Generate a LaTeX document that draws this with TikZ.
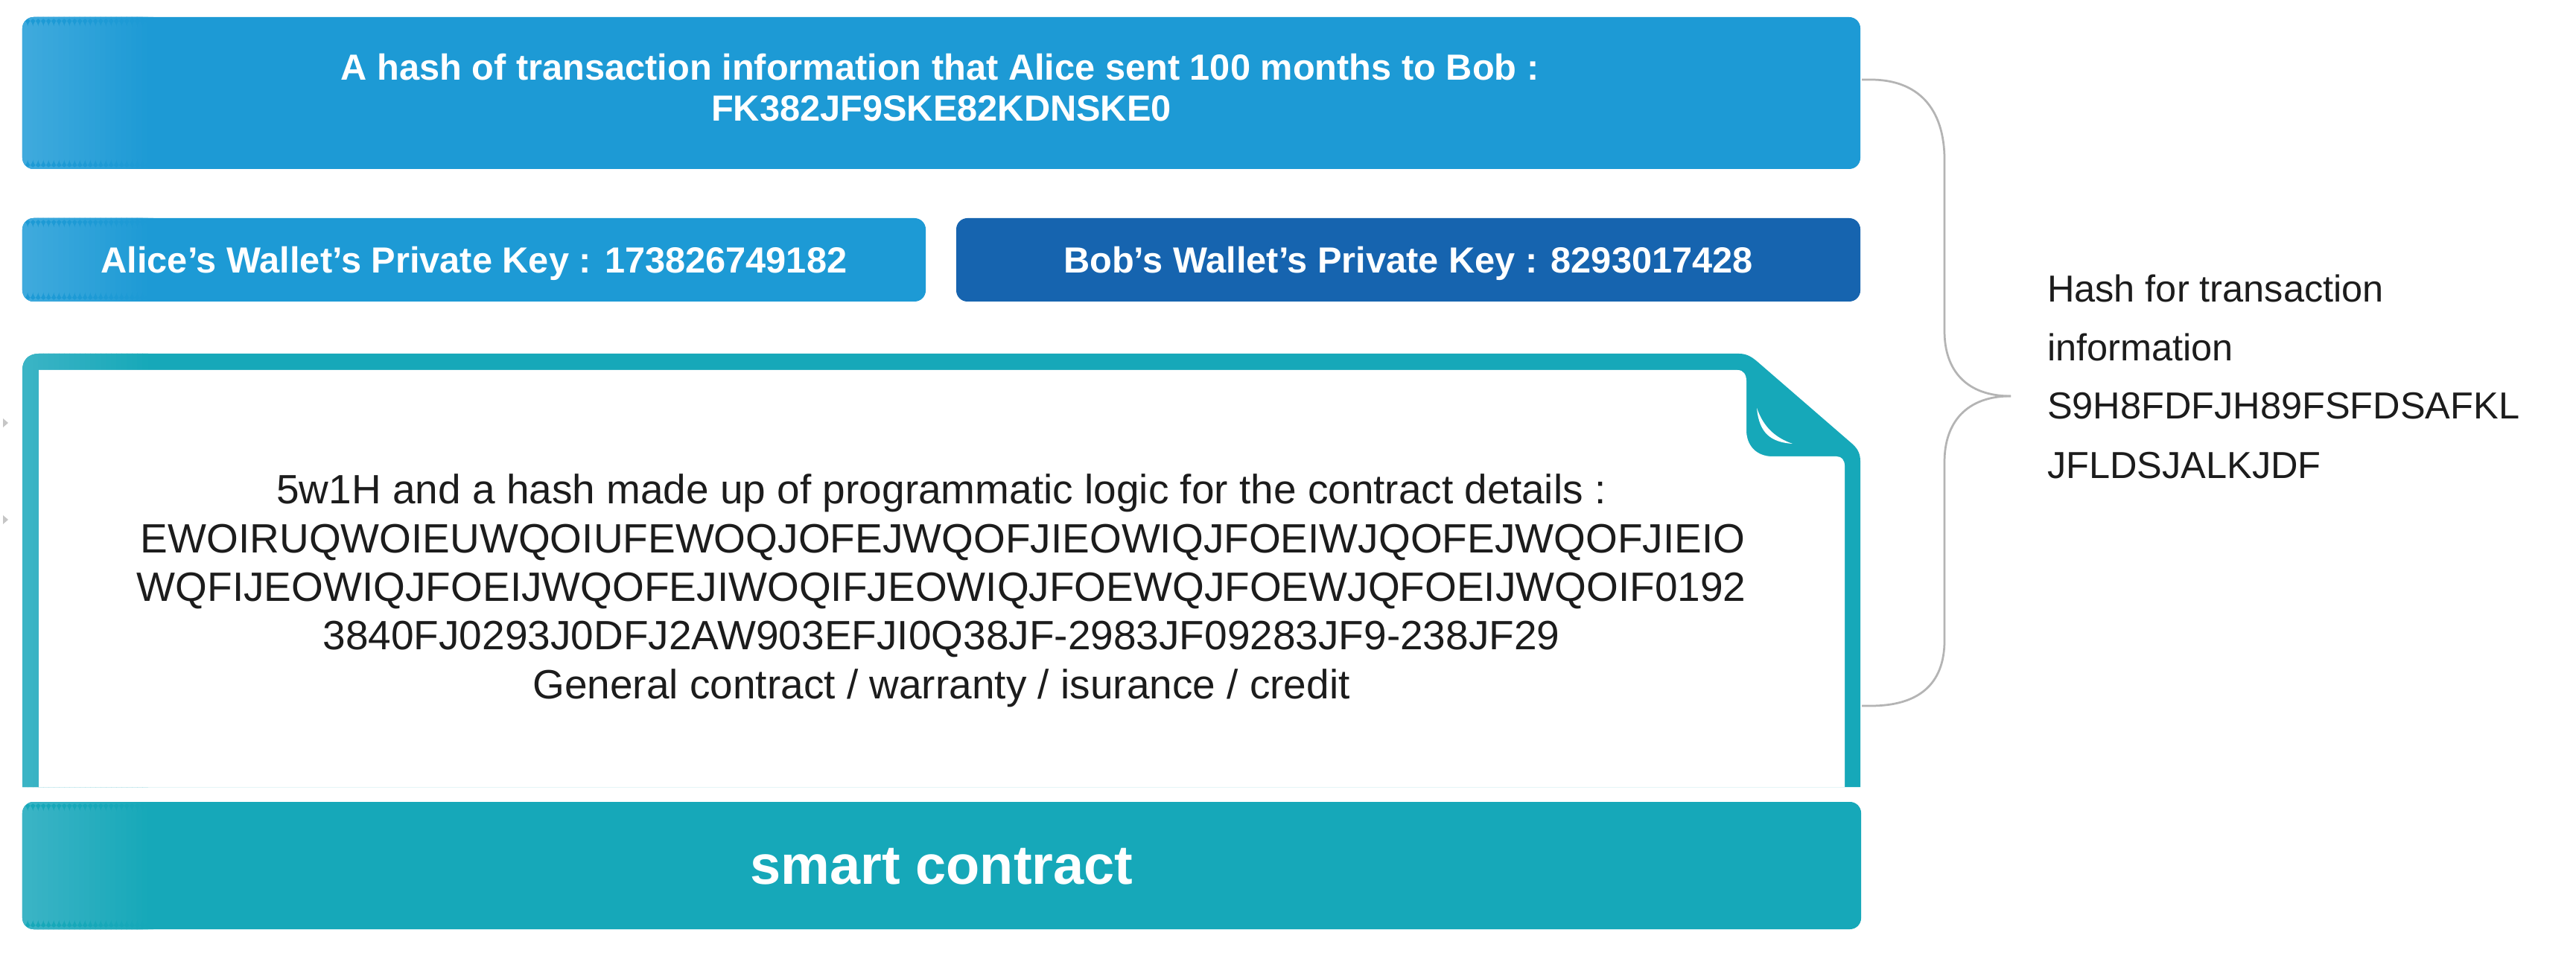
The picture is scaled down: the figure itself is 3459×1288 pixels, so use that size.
\documentclass[tikz,border=0pt]{standalone}
\usepackage{fontspec}
\setmainfont{Liberation Sans}
\definecolor{skyblue}{HTML}{1D9AD5}
\definecolor{skylight}{HTML}{3FAADD}
\definecolor{navyblue}{HTML}{1664AF}
\definecolor{tealc}{HTML}{16A8B9}
\definecolor{teallight}{HTML}{3BB4C5}
\definecolor{bracegray}{HTML}{B4B4B4}
\definecolor{txt}{HTML}{1C1C1C}
\newcommand\leftglow[2]{%
  \foreach \i in {0,...,23}{%
    \pgfmathsetmacro\pp{100-\i*100/24}%
    \fill[#1!\pp!#2] ([xshift=\i*1.4pt]path picture bounding box.north west)
      rectangle ([xshift=\i*1.4pt+1.5pt]path picture bounding box.south west);}}
\begin{document}
\begin{tikzpicture}[x=0.2pt,y=-0.2pt,
  boxbase/.style={rectangle, rounded corners=3pt, inner sep=0pt, draw=none},
  lightbox/.style={boxbase, fill=skyblue, path picture={\leftglow{skylight}{skyblue}}},
  darkbox/.style={boxbase, fill=navyblue},
  tealbox/.style={boxbase, fill=tealc, path picture={\leftglow{teallight}{tealc}}},
  boldtxt/.style={inner sep=0pt, anchor=base, text=white, font=\bfseries\fontsize{9.75}{11}\selectfont},
  bigtxt/.style={inner sep=0pt, anchor=base, text=white, font=\bfseries\fontsize{14.8}{17}\selectfont},
  bodytxt/.style={inner sep=0pt, anchor=base, text=txt, font=\fontsize{11}{13}\selectfont},
  sidetxt/.style={inner sep=0pt, anchor=base west, text=txt, font=\fontsize{10.1}{15.8}\selectfont},
  bracestyle/.style={draw=bracegray, line width=0.55pt}
]
\useasboundingbox (0,0) rectangle (3459,1288);
\fill[white] (0,0) rectangle (3459,1288);

% top hash bar
\node[lightbox, minimum width=493.6pt, minimum height=40.8pt] (hashbar) at (1264,125) {};
\node[boldtxt] (hashA) at (1262,108) {A hash of transaction information that Alice sent 100 months to Bob :};
\node[boldtxt] (hashB) at (1264,163) {FK382JF9SKE82KDNSKE0};

% key boxes
\node[lightbox, minimum width=242.6pt, minimum height=22.4pt] (alicebox) at (636.5,349) {};
\node[boldtxt] (alicetxt) at (636.5,367) {Alice’s Wallet’s Private Key : 173826749182};
\node[darkbox, minimum width=242.8pt, minimum height=22.4pt] (bobbox) at (1891,349) {};
\node[boldtxt] (bobtxt) at (1891,367) {Bob’s Wallet’s Private Key : 8293017428};

% document frame with folded corner
\begin{scope}
\clip (30,1057) -- (30,497) .. controls (30,484) and (38,475) .. (52,475) -- (2335,475)
  .. controls (2345,475) and (2352,479) .. (2360,486) -- (2487,596)
  .. controls (2495,603) and (2498,610) .. (2498,620) -- (2498,1057) -- cycle;
\fill[tealc] (0,400) rectangle (2600,1100);
\foreach \i in {0,...,23}{%
  \pgfmathsetmacro\pp{100-\i*100/24}%
  \fill[teallight!\pp!tealc] (30+\i*7,470) rectangle (30+\i*7+7.5,1060);}
\end{scope}
\fill[white] (52,1057) -- (52,497) -- (2333,497) .. controls (2341,497) and (2345,503) .. (2345,512)
  -- (2345,578) .. controls (2345,598) and (2358,613) .. (2380,613) -- (2466,613)
  .. controls (2473,613) and (2477,618) .. (2477,626) -- (2477,1057) -- cycle;
\fill[white] (2359,548) .. controls (2362,582) and (2378,594) .. (2407,596)
  .. controls (2384,588) and (2368,574) .. (2359,548) -- cycle;

% contract text
\node[bodytxt] (c1) at (1264,677) {5w1H and a hash made up of programmatic logic for the contract details :};
\node[bodytxt] (c2) at (1266,743) {EWOIRUQWOIEUWQOIUFEWOQJOFEJWQOFJIEOWIQJFOEIWJQOFEJWQOFJIEIO};
\node[bodytxt] (c3) at (1264,808) {WQFIJEOWIQJFOEIJWQOFEJIWOQIFJEOWIQJFOEWQJFOEWJQFOEIJWQOIF0192};
\node[bodytxt] (c4) at (1264,873) {3840FJ0293J0DFJ2AW903EFJI0Q38JF-2983JF09283JF9-238JF29};
\node[bodytxt] (c5) at (1264,938) {General contract / warranty / isurance / credit};

% bottom bar
\node[tealbox, minimum width=493.8pt, minimum height=34.2pt] (smartbar) at (1264.5,1162.5) {};
\node[bigtxt] (smarttxt) at (1264.5,1187) {smart contract};

% brace
\coordinate (braceTop) at (2500,107);
\coordinate (braceTip) at (2700,532);
\coordinate (braceBot) at (2500,948);
\draw[bracestyle] (braceTop) -- ++(12,0) .. controls (2575,107) and (2611,145) .. (2611,215)
  -- (2611,445) .. controls (2611,497) and (2640,532) .. (braceTip);
\draw[bracestyle] (braceTip) .. controls (2640,532) and (2611,568) .. (2611,620)
  -- (2611,860) .. controls (2611,920) and (2575,948) .. (2512,948) -- (braceBot);

% side label
\node[sidetxt] (s1) at (2748,406) {Hash for transaction};
\node[sidetxt] (s2) at (2748,485) {information};
\node[sidetxt] (s3) at (2748,563) {S9H8FDFJH89FSFDSAFKL};
\node[sidetxt] (s4) at (2748,643) {JFLDSJALKJDF};

% small margin marks
\fill[gray!45] (4,562) -- (11,568) -- (4,574) -- cycle;
\fill[gray!45] (4,692) -- (11,698) -- (4,704) -- cycle;
\end{tikzpicture}
\end{document}
